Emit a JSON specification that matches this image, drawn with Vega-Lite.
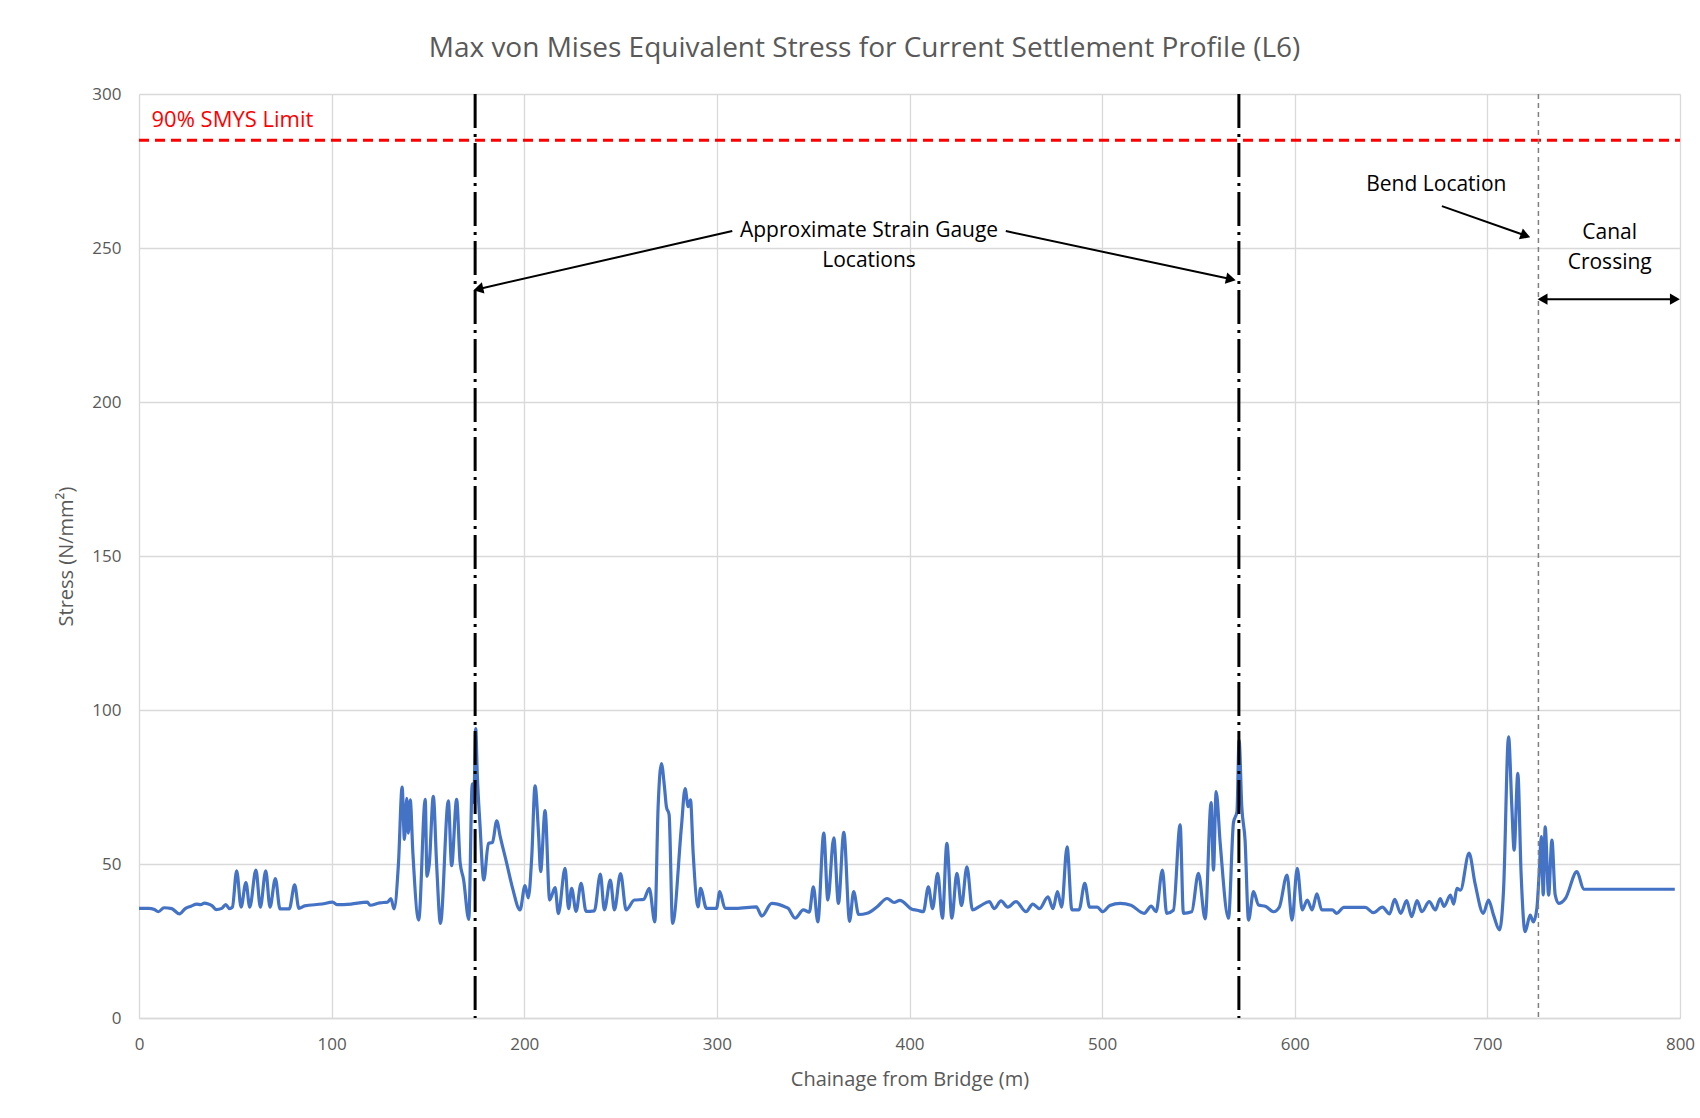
{
  "$schema": "https://vega.github.io/schema/vega-lite/v6.json",
  "autosize": {"type": "none"},
  "width": 1541,
  "height": 924,
  "padding": {"left": 139, "top": 94, "right": 20, "bottom": 100},
  "background": "white",
  "title": {
    "text": "Max von Mises Equivalent Stress for Current Settlement Profile (L6)",
    "font": "Open Sans",
    "fontSize": 28,
    "fontWeight": "normal",
    "color": "#595959",
    "anchor": "middle",
    "dx": -45,
    "offset": 22
  },
  "config": {
    "view": {"stroke": null},
    "axis": {
      "labelFont": "Open Sans",
      "labelFontSize": 17,
      "labelColor": "#595959",
      "titleFont": "Open Sans",
      "titleFontSize": 20,
      "titleFontWeight": "normal",
      "titleColor": "#595959",
      "gridColor": "#d9d9d9",
      "gridWidth": 1.3,
      "ticks": false,
      "tickSize": 0,
      "labelFlush": false,
      "labelOverlap": false
    }
  },
  "datasets": {
    "stress": [
      {"chainage": 0, "stress": 35.6}, {"chainage": 5, "stress": 35.6}, {"chainage": 8, "stress": 35.2},
      {"chainage": 10, "stress": 34.5}, {"chainage": 13, "stress": 35.8}, {"chainage": 17, "stress": 35.5},
      {"chainage": 21, "stress": 33.8}, {"chainage": 24, "stress": 35.5}, {"chainage": 27, "stress": 36.3},
      {"chainage": 30, "stress": 37}, {"chainage": 32, "stress": 36.8}, {"chainage": 34, "stress": 37.3},
      {"chainage": 36, "stress": 37}, {"chainage": 38, "stress": 36.4}, {"chainage": 40, "stress": 35.2},
      {"chainage": 43, "stress": 35.6}, {"chainage": 45, "stress": 36.8}, {"chainage": 47, "stress": 35.5},
      {"chainage": 48.5, "stress": 36}, {"chainage": 50.7, "stress": 47.8}, {"chainage": 53, "stress": 36},
      {"chainage": 55.5, "stress": 44}, {"chainage": 57.5, "stress": 36}, {"chainage": 60.7, "stress": 48},
      {"chainage": 63, "stress": 36}, {"chainage": 65.8, "stress": 47.8}, {"chainage": 68, "stress": 36},
      {"chainage": 70.8, "stress": 45.3}, {"chainage": 73.2, "stress": 35.4}, {"chainage": 78, "stress": 35.4},
      {"chainage": 80.8, "stress": 43.2}, {"chainage": 83, "stress": 35.6}, {"chainage": 86, "stress": 36.4},
      {"chainage": 95, "stress": 37}, {"chainage": 100.5, "stress": 37.6}, {"chainage": 103, "stress": 36.8},
      {"chainage": 110, "stress": 37}, {"chainage": 118.5, "stress": 37.6}, {"chainage": 120, "stress": 36.6},
      {"chainage": 125, "stress": 37.4}, {"chainage": 129, "stress": 37.6}, {"chainage": 130.8, "stress": 38.8},
      {"chainage": 132.4, "stress": 35.4}, {"chainage": 134.7, "stress": 50.2}, {"chainage": 136.6, "stress": 75},
      {"chainage": 137.8, "stress": 58}, {"chainage": 139, "stress": 71.3}, {"chainage": 139.8, "stress": 60},
      {"chainage": 140.8, "stress": 70.8}, {"chainage": 142.2, "stress": 53.4}, {"chainage": 145.2, "stress": 31.8},
      {"chainage": 148.6, "stress": 71}, {"chainage": 149.5, "stress": 46}, {"chainage": 150.7, "stress": 50},
      {"chainage": 152.8, "stress": 72}, {"chainage": 154.5, "stress": 50}, {"chainage": 156.5, "stress": 30.7},
      {"chainage": 160.6, "stress": 70.5}, {"chainage": 162.3, "stress": 49.5}, {"chainage": 164.9, "stress": 71},
      {"chainage": 166.7, "stress": 50.5}, {"chainage": 168.5, "stress": 45}, {"chainage": 171.2, "stress": 32},
      {"chainage": 173, "stress": 76}, {"chainage": 173.8, "stress": 70}, {"chainage": 174.8, "stress": 94},
      {"chainage": 175.6, "stress": 79.4}, {"chainage": 177, "stress": 63}, {"chainage": 179, "stress": 44.8},
      {"chainage": 181.4, "stress": 56.7}, {"chainage": 183.5, "stress": 57}, {"chainage": 185.7, "stress": 64},
      {"chainage": 187.5, "stress": 59}, {"chainage": 190.9, "stress": 50.2}, {"chainage": 194, "stress": 42},
      {"chainage": 197.8, "stress": 35.1}, {"chainage": 200.4, "stress": 43}, {"chainage": 202.1, "stress": 39},
      {"chainage": 203.9, "stress": 52.4}, {"chainage": 205.6, "stress": 75.4}, {"chainage": 207.5, "stress": 58.9},
      {"chainage": 208.5, "stress": 47.5}, {"chainage": 210.8, "stress": 67.3}, {"chainage": 213.2, "stress": 38.3},
      {"chainage": 216, "stress": 42.3}, {"chainage": 217.7, "stress": 33.9}, {"chainage": 221.2, "stress": 48.6},
      {"chainage": 223, "stress": 35.5}, {"chainage": 224.6, "stress": 42.1}, {"chainage": 226.9, "stress": 34.6},
      {"chainage": 229.5, "stress": 43.7}, {"chainage": 232.1, "stress": 34.6}, {"chainage": 236.4, "stress": 34.8},
      {"chainage": 239.5, "stress": 46.7}, {"chainage": 241.6, "stress": 35.1}, {"chainage": 244.7, "stress": 44.8},
      {"chainage": 246.8, "stress": 35.1}, {"chainage": 250, "stress": 46.9}, {"chainage": 252.9, "stress": 35.1},
      {"chainage": 257.2, "stress": 38.3}, {"chainage": 262, "stress": 38.5}, {"chainage": 264.9, "stress": 42.1},
      {"chainage": 267.8, "stress": 31.2}, {"chainage": 269.5, "stress": 68.6}, {"chainage": 271.2, "stress": 82.6},
      {"chainage": 272.8, "stress": 75}, {"chainage": 273.8, "stress": 68.6}, {"chainage": 275.2, "stress": 66},
      {"chainage": 277, "stress": 30.7}, {"chainage": 281.6, "stress": 62.1}, {"chainage": 283.5, "stress": 74.5},
      {"chainage": 285.1, "stress": 68.6}, {"chainage": 286.3, "stress": 70.8}, {"chainage": 287.7, "stress": 53.4},
      {"chainage": 290.3, "stress": 36.1}, {"chainage": 291.5, "stress": 42.1}, {"chainage": 294.6, "stress": 35.6},
      {"chainage": 299.8, "stress": 35.6}, {"chainage": 301.5, "stress": 41}, {"chainage": 304.2, "stress": 35.6},
      {"chainage": 310, "stress": 35.6}, {"chainage": 320.5, "stress": 36.1}, {"chainage": 323.3, "stress": 33.1},
      {"chainage": 328.5, "stress": 37.2}, {"chainage": 335, "stress": 36.2}, {"chainage": 337, "stress": 35.6},
      {"chainage": 340.6, "stress": 32.4}, {"chainage": 344.9, "stress": 35.1}, {"chainage": 348, "stress": 34.4},
      {"chainage": 350.1, "stress": 42.6}, {"chainage": 352.4, "stress": 31.2}, {"chainage": 355.5, "stress": 60},
      {"chainage": 357.6, "stress": 38.3}, {"chainage": 360.7, "stress": 58.5}, {"chainage": 363.1, "stress": 37.2},
      {"chainage": 365.9, "stress": 60.3}, {"chainage": 368.9, "stress": 31.4}, {"chainage": 371, "stress": 41},
      {"chainage": 373.6, "stress": 33.6}, {"chainage": 378, "stress": 34}, {"chainage": 383.2, "stress": 36.1},
      {"chainage": 388.4, "stress": 38.8}, {"chainage": 392, "stress": 37.5}, {"chainage": 395, "stress": 38.2},
      {"chainage": 401.3, "stress": 35.3}, {"chainage": 404, "stress": 35}, {"chainage": 407.2, "stress": 34.5},
      {"chainage": 409.8, "stress": 42.6}, {"chainage": 412, "stress": 35.5}, {"chainage": 414.6, "stress": 47},
      {"chainage": 417.1, "stress": 32.4}, {"chainage": 419.4, "stress": 56.7}, {"chainage": 422, "stress": 32.4},
      {"chainage": 424.6, "stress": 47}, {"chainage": 427, "stress": 36.5}, {"chainage": 429.8, "stress": 49.1},
      {"chainage": 432.7, "stress": 35.1}, {"chainage": 437, "stress": 36.5}, {"chainage": 441.4, "stress": 37.8},
      {"chainage": 444, "stress": 35.5}, {"chainage": 447.5, "stress": 38}, {"chainage": 451, "stress": 36},
      {"chainage": 455.3, "stress": 37.8}, {"chainage": 460.5, "stress": 34.5}, {"chainage": 464, "stress": 37},
      {"chainage": 467.5, "stress": 35.5}, {"chainage": 471.9, "stress": 39.3}, {"chainage": 474.5, "stress": 35.5},
      {"chainage": 476.8, "stress": 41}, {"chainage": 479, "stress": 36}, {"chainage": 481.8, "stress": 55.6},
      {"chainage": 484.3, "stress": 35.1}, {"chainage": 488, "stress": 35.1}, {"chainage": 491, "stress": 43.7},
      {"chainage": 493.5, "stress": 36}, {"chainage": 497.5, "stress": 36}, {"chainage": 500.3, "stress": 34.5},
      {"chainage": 504, "stress": 36.5}, {"chainage": 509.4, "stress": 37.2}, {"chainage": 515, "stress": 36.6},
      {"chainage": 521.8, "stress": 34}, {"chainage": 525.5, "stress": 36.3}, {"chainage": 528, "stress": 34.5},
      {"chainage": 531.3, "stress": 48}, {"chainage": 533.5, "stress": 34}, {"chainage": 537, "stress": 35},
      {"chainage": 540.5, "stress": 62.7}, {"chainage": 542.2, "stress": 34}, {"chainage": 546.5, "stress": 34.5},
      {"chainage": 550, "stress": 47}, {"chainage": 553.5, "stress": 32.2}, {"chainage": 556.6, "stress": 69.9},
      {"chainage": 557.8, "stress": 48}, {"chainage": 559.2, "stress": 73.5}, {"chainage": 561.3, "stress": 56.7},
      {"chainage": 565.6, "stress": 32.4}, {"chainage": 568.2, "stress": 63.5}, {"chainage": 570, "stress": 67},
      {"chainage": 571.1, "stress": 90.2}, {"chainage": 572.5, "stress": 68.6}, {"chainage": 574.2, "stress": 57.8},
      {"chainage": 576, "stress": 31.8}, {"chainage": 578.6, "stress": 41}, {"chainage": 581.2, "stress": 36.7},
      {"chainage": 585, "stress": 36.2}, {"chainage": 589, "stress": 34.5}, {"chainage": 592, "stress": 36},
      {"chainage": 596, "stress": 46.4}, {"chainage": 598.6, "stress": 31.8}, {"chainage": 601.3, "stress": 48.6},
      {"chainage": 603.9, "stress": 35.1}, {"chainage": 606.5, "stress": 38.3}, {"chainage": 609, "stress": 35.1},
      {"chainage": 611.5, "stress": 40.3}, {"chainage": 614, "stress": 35.1}, {"chainage": 619.5, "stress": 35.1},
      {"chainage": 621.8, "stress": 34}, {"chainage": 625.5, "stress": 35.9}, {"chainage": 636.6, "stress": 35.9},
      {"chainage": 640.9, "stress": 34.2}, {"chainage": 645.5, "stress": 36}, {"chainage": 649.2, "stress": 33.8},
      {"chainage": 651.9, "stress": 38.5}, {"chainage": 655, "stress": 34}, {"chainage": 658.1, "stress": 38.1},
      {"chainage": 660.7, "stress": 32.9}, {"chainage": 663.5, "stress": 38.1}, {"chainage": 666, "stress": 34.5},
      {"chainage": 669.8, "stress": 37.8}, {"chainage": 673, "stress": 35.1}, {"chainage": 675.5, "stress": 38.8},
      {"chainage": 677.5, "stress": 36.2}, {"chainage": 680.8, "stress": 39.9}, {"chainage": 682.5, "stress": 37},
      {"chainage": 684.2, "stress": 42.1}, {"chainage": 686, "stress": 41.5}, {"chainage": 690.5, "stress": 53.5},
      {"chainage": 693.6, "stress": 43.7}, {"chainage": 697.9, "stress": 34}, {"chainage": 700.6, "stress": 38.3},
      {"chainage": 703.2, "stress": 33.4}, {"chainage": 706.3, "stress": 28.6}, {"chainage": 708.4, "stress": 41.6},
      {"chainage": 711, "stress": 91.3}, {"chainage": 712.7, "stress": 68.6}, {"chainage": 713.9, "stress": 54.5},
      {"chainage": 715.8, "stress": 79.4}, {"chainage": 717.5, "stress": 47}, {"chainage": 719.6, "stress": 28},
      {"chainage": 722.2, "stress": 33.4}, {"chainage": 723.9, "stress": 31.2}, {"chainage": 725.7, "stress": 35.6},
      {"chainage": 726.8, "stress": 46}, {"chainage": 728, "stress": 58.9}, {"chainage": 729, "stress": 40},
      {"chainage": 730, "stress": 62.1}, {"chainage": 731.8, "stress": 39.9}, {"chainage": 733.5, "stress": 57.8},
      {"chainage": 735.2, "stress": 40}, {"chainage": 737, "stress": 37.2}, {"chainage": 740.5, "stress": 38.8},
      {"chainage": 746.5, "stress": 47.5}, {"chainage": 750, "stress": 41.8}, {"chainage": 797.3, "stress": 41.8}
    ],
    "limit": [{"chainage": 0, "chainage2": 800, "stress": 285}],
    "gauges": [{"chainage": 174.5}, {"chainage": 571}],
    "bend": [{"chainage": 726.5}],
    "redlabel": [{"chainage": 6.5, "stress": 291.5, "label": "90% SMYS Limit"}],
    "notes": [
      {"chainage": 379, "stress": 255.5, "label": "Approximate Strain Gauge"},
      {"chainage": 379, "stress": 245.8, "label": "Locations"},
      {"chainage": 673.5, "stress": 270.3, "label": "Bend Location"},
      {"chainage": 763.5, "stress": 254.9, "label": "Canal"},
      {"chainage": 763.5, "stress": 245, "label": "Crossing"}
    ],
    "arrows": [
      {"chainage": 308, "stress": 255.5, "chainage2": 177, "stress2": 236.8},
      {"chainage": 450, "stress": 255.5, "chainage2": 566, "stress2": 240},
      {"chainage": 676.4, "stress": 263.6, "chainage2": 719, "stress2": 254.2},
      {"chainage": 729, "stress": 233.4, "chainage2": 797, "stress2": 233.4}
    ]
  },
  "layer": [
    {
      "data": {"name": "stress"},
      "mark": {"type": "line", "color": "#4472C4", "strokeWidth": 3.2, "strokeJoin": "round", "interpolate": "monotone"},
      "encoding": {
        "x": {
          "field": "chainage", "type": "quantitative",
          "scale": {"domain": [0, 800], "nice": false},
          "axis": {
            "title": "Chainage from Bridge (m)",
            "values": [0, 100, 200, 300, 400, 500, 600, 700, 800],
            "grid": true, "domain": true, "domainColor": "#d9d9d9", "domainWidth": 1.5,
            "labelPadding": 18, "titlePadding": 17
          }
        },
        "y": {
          "field": "stress", "type": "quantitative",
          "scale": {"domain": [0, 300], "nice": false},
          "axis": {
            "title": "Stress (N/mm²)",
            "values": [0, 50, 100, 150, 200, 250, 300],
            "grid": true, "domain": false,
            "labelPadding": 18, "titlePadding": 15
          }
        }
      }
    },
    {
      "data": {"name": "limit"},
      "mark": {"type": "rule", "color": "#ff0000", "strokeWidth": 3, "strokeDash": [10, 6]},
      "encoding": {
        "x": {"field": "chainage", "type": "quantitative", "scale": {"domain": [0, 800], "nice": false}},
        "x2": {"field": "chainage2"},
        "y": {"field": "stress", "type": "quantitative", "scale": {"domain": [0, 300], "nice": false}}
      }
    },
    {
      "data": {"name": "gauges"},
      "mark": {"type": "rule", "color": "#000000", "strokeWidth": 3, "strokeDash": [34, 6, 3, 6]},
      "encoding": {
        "x": {"field": "chainage", "type": "quantitative", "scale": {"domain": [0, 800], "nice": false}}
      }
    },
    {
      "data": {"name": "bend"},
      "mark": {"type": "rule", "color": "#808080", "strokeWidth": 1.5, "strokeDash": [5, 4]},
      "encoding": {
        "x": {"field": "chainage", "type": "quantitative", "scale": {"domain": [0, 800], "nice": false}}
      }
    },
    {
      "data": {"name": "redlabel"},
      "mark": {"type": "text", "color": "#ff0000", "font": "Open Sans", "fontSize": 22, "align": "left", "baseline": "middle"},
      "encoding": {
        "x": {"field": "chainage", "type": "quantitative", "scale": {"domain": [0, 800], "nice": false}},
        "y": {"field": "stress", "type": "quantitative", "scale": {"domain": [0, 300], "nice": false}},
        "text": {"field": "label"}
      }
    },
    {
      "data": {"name": "arrows"},
      "mark": {"type": "rule", "color": "#000000", "strokeWidth": 2},
      "encoding": {
        "x": {"field": "chainage", "type": "quantitative", "scale": {"domain": [0, 800], "nice": false}},
        "x2": {"field": "chainage2"},
        "y": {"field": "stress", "type": "quantitative", "scale": {"domain": [0, 300], "nice": false}},
        "y2": {"field": "stress2"}
      }
    },
    {
      "data": {"values": [{"chainage": 177, "stress": 236.8}]},
      "mark": {"type": "point", "shape": "triangle", "filled": true, "color": "#000000", "size": 130, "angle": 257, "opacity": 1},
      "encoding": {
        "x": {"field": "chainage", "type": "quantitative", "scale": {"domain": [0, 800], "nice": false}},
        "y": {"field": "stress", "type": "quantitative", "scale": {"domain": [0, 300], "nice": false}}
      }
    },
    {
      "data": {"values": [{"chainage": 566, "stress": 240}]},
      "mark": {"type": "point", "shape": "triangle", "filled": true, "color": "#000000", "size": 130, "angle": 102, "opacity": 1},
      "encoding": {
        "x": {"field": "chainage", "type": "quantitative", "scale": {"domain": [0, 800], "nice": false}},
        "y": {"field": "stress", "type": "quantitative", "scale": {"domain": [0, 300], "nice": false}}
      }
    },
    {
      "data": {"values": [{"chainage": 719, "stress": 254.2}]},
      "mark": {"type": "point", "shape": "triangle", "filled": true, "color": "#000000", "size": 130, "angle": 110, "opacity": 1},
      "encoding": {
        "x": {"field": "chainage", "type": "quantitative", "scale": {"domain": [0, 800], "nice": false}},
        "y": {"field": "stress", "type": "quantitative", "scale": {"domain": [0, 300], "nice": false}}
      }
    },
    {
      "data": {"values": [{"chainage": 729.5, "stress": 233.4}]},
      "mark": {"type": "point", "shape": "triangle", "filled": true, "color": "#000000", "size": 130, "angle": 270, "opacity": 1},
      "encoding": {
        "x": {"field": "chainage", "type": "quantitative", "scale": {"domain": [0, 800], "nice": false}},
        "y": {"field": "stress", "type": "quantitative", "scale": {"domain": [0, 300], "nice": false}}
      }
    },
    {
      "data": {"values": [{"chainage": 796.5, "stress": 233.4}]},
      "mark": {"type": "point", "shape": "triangle", "filled": true, "color": "#000000", "size": 130, "angle": 90, "opacity": 1},
      "encoding": {
        "x": {"field": "chainage", "type": "quantitative", "scale": {"domain": [0, 800], "nice": false}},
        "y": {"field": "stress", "type": "quantitative", "scale": {"domain": [0, 300], "nice": false}}
      }
    },
    {
      "data": {"name": "notes"},
      "mark": {"type": "text", "color": "#000000", "font": "Open Sans", "fontSize": 21, "align": "center", "baseline": "middle"},
      "encoding": {
        "x": {"field": "chainage", "type": "quantitative", "scale": {"domain": [0, 800], "nice": false}},
        "y": {"field": "stress", "type": "quantitative", "scale": {"domain": [0, 300], "nice": false}},
        "text": {"field": "label"}
      }
    }
  ]
}
